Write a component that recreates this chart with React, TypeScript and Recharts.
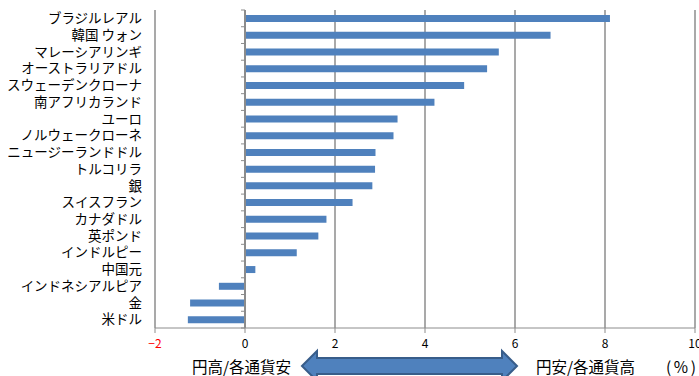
import { BarChart, Bar, XAxis, YAxis, CartesianGrid, ReferenceLine } from 'recharts';

const categories = [
  'ブラジルレアル', '韓国 ウォン', 'マレーシアリンギ', 'オーストラリアドル', 'スウェーデンクローナ',
  '南アフリカランド', 'ユーロ', 'ノルウェークローネ', 'ニュージーランドドル', 'トルコリラ',
  '銀', 'スイスフラン', 'カナダドル', '英ポンド', 'インドルピー',
  '中国元', 'インドネシアルピア', '金', '米ドル',
];
const changes = [
  8.11, 6.79, 5.64, 5.38, 4.87,
  4.21, 3.39, 3.30, 2.90, 2.89,
  2.83, 2.39, 1.81, 1.63, 1.15,
  0.23, -0.58, -1.22, -1.27,
];
const xTicks = [-2, 0, 2, 4, 6, 8, 10];

const data = categories.map((name, i) => ({ name, value: changes[i] }));

const font = '"Noto Sans CJK JP", "Noto Sans", sans-serif';
const gridColor = '#8c8c8c';

// zero axis with little tick marks between categories, like Excel
const ZeroAxis = (props: any) => {
  const { x1, y1, x2, y2 } = props;
  const n = categories.length;
  const step = (y2 - y1) / n;
  const marks = [];
  for (let i = 0; i <= n; i++) {
    const y = y1 + step * i;
    marks.push(<line key={i} x1={x1 - 4} y1={y} x2={x1} y2={y} stroke={gridColor} strokeWidth={1} />);
  }
  return <g>
    <line x1={x1} y1={y1} x2={x2} y2={y2} stroke={gridColor} strokeWidth={2} />
    {marks}
  </g>;
};

const XTick = (props: any) => {
  const { x, y, payload } = props;
  const v = payload.value;
  return <text x={x} y={y} dy="0.71em" textAnchor="middle" fontSize={12} fontFamily={font}
    fill={v < 0 ? '#ff0000' : '#000'}>
    {v < 0 ? `−${Math.abs(v)}` : v}
  </text>;
};

export default function App() {
  return <div style={{ position: 'absolute', left: 0, top: 0, width: 699, height: 376, background: '#fff', overflow: 'hidden' }}>
    <BarChart
      width={699}
      height={376}
      data={data}
      layout="vertical"
      margin={{ top: 10, right: 4, left: 0, bottom: 28 }}
      barSize={7}
    >
      <CartesianGrid horizontal={false} vertical stroke={gridColor} strokeWidth={1.5} />
      <XAxis type="number" domain={[-2, 10]} ticks={xTicks} interval={0}
        stroke={gridColor} tickSize={5} tickMargin={6} height={20} tick={<XTick />} />
      <XAxis xAxisId="top" orientation="top" type="number" domain={[-2, 10]} height={0}
        tick={false} tickLine={false} stroke="#d9d9d9" />
      <YAxis type="category" dataKey="name" width={155} axisLine={false} tickLine={false}
        tickSize={0} tickMargin={13} interval={0}
        tick={{ fontSize: 13.5, fontFamily: font, fill: '#000' }} />
      <Bar dataKey="value" fill="#4f81bd" isAnimationActive={false} />
      <ReferenceLine x={0} shape={<ZeroAxis />} />
    </BarChart>
    <svg width={699} height={376} style={{ position: 'absolute', left: 0, top: 0, pointerEvents: 'none' }}>
      <text x={192} y={373} fontSize={15.5} fontFamily={font} fill="#000">円高/各通貨安</text>
      <path d="M302,366 L317,351 L317,358 L502,358 L502,351 L517,366 L502,381 L502,374 L317,374 L317,381 Z"
        fill="#4f81bd" stroke="#385d8a" strokeWidth={2} />
      <text x={536} y={373} fontSize={15.5} fontFamily={font} fill="#000">円安/各通貨高</text>
      <g fontSize={15.5} fontFamily={font} fill="#000">
        <text x={666} y={373}>(</text>
        <text x={681} y={373} textAnchor="middle">%</text>
        <text x={696} y={373} textAnchor="end">)</text>
      </g>
    </svg>
  </div>;
}
